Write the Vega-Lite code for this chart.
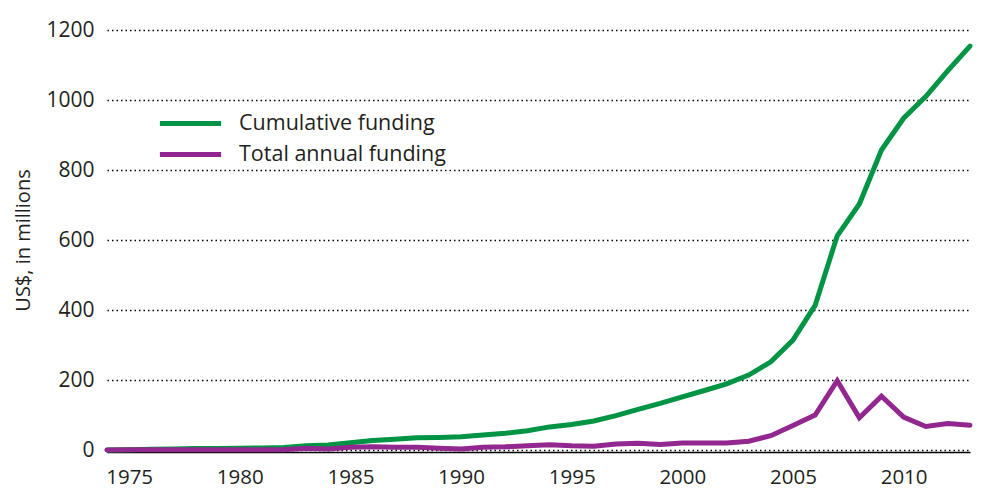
{
  "$schema": "https://vega.github.io/schema/vega-lite/v6.json",
  "autosize": "none",
  "width": 863,
  "height": 420,
  "padding": {"left": 107, "top": 30, "right": 12, "bottom": 39},
  "background": "white",
  "config": {
    "font": "Open Sans",
    "view": {"stroke": null},
    "axis": {"labelFont": "Open Sans", "titleFont": "Open Sans", "labelColor": "#231f20", "titleColor": "#231f20"}
  },
  "data": {
    "values": [
      {"year": 1974, "series": "Cumulative funding", "value": 0},
      {"year": 1975, "series": "Cumulative funding", "value": 1},
      {"year": 1976, "series": "Cumulative funding", "value": 2},
      {"year": 1977, "series": "Cumulative funding", "value": 3},
      {"year": 1978, "series": "Cumulative funding", "value": 4},
      {"year": 1979, "series": "Cumulative funding", "value": 4},
      {"year": 1980, "series": "Cumulative funding", "value": 5},
      {"year": 1981, "series": "Cumulative funding", "value": 6},
      {"year": 1982, "series": "Cumulative funding", "value": 7},
      {"year": 1983, "series": "Cumulative funding", "value": 12},
      {"year": 1984, "series": "Cumulative funding", "value": 14},
      {"year": 1985, "series": "Cumulative funding", "value": 21},
      {"year": 1986, "series": "Cumulative funding", "value": 27},
      {"year": 1987, "series": "Cumulative funding", "value": 31},
      {"year": 1988, "series": "Cumulative funding", "value": 35},
      {"year": 1989, "series": "Cumulative funding", "value": 36},
      {"year": 1990, "series": "Cumulative funding", "value": 38},
      {"year": 1991, "series": "Cumulative funding", "value": 43},
      {"year": 1992, "series": "Cumulative funding", "value": 48},
      {"year": 1993, "series": "Cumulative funding", "value": 55},
      {"year": 1994, "series": "Cumulative funding", "value": 66},
      {"year": 1995, "series": "Cumulative funding", "value": 73},
      {"year": 1996, "series": "Cumulative funding", "value": 83},
      {"year": 1997, "series": "Cumulative funding", "value": 98},
      {"year": 1998, "series": "Cumulative funding", "value": 116},
      {"year": 1999, "series": "Cumulative funding", "value": 133},
      {"year": 2000, "series": "Cumulative funding", "value": 152},
      {"year": 2001, "series": "Cumulative funding", "value": 170},
      {"year": 2002, "series": "Cumulative funding", "value": 189},
      {"year": 2003, "series": "Cumulative funding", "value": 214},
      {"year": 2004, "series": "Cumulative funding", "value": 252},
      {"year": 2005, "series": "Cumulative funding", "value": 314},
      {"year": 2006, "series": "Cumulative funding", "value": 413},
      {"year": 2007, "series": "Cumulative funding", "value": 612},
      {"year": 2008, "series": "Cumulative funding", "value": 703},
      {"year": 2009, "series": "Cumulative funding", "value": 857},
      {"year": 2010, "series": "Cumulative funding", "value": 948},
      {"year": 2011, "series": "Cumulative funding", "value": 1010},
      {"year": 2012, "series": "Cumulative funding", "value": 1084},
      {"year": 2013, "series": "Cumulative funding", "value": 1154},
      {"year": 1974, "series": "Total annual funding", "value": 0},
      {"year": 1975, "series": "Total annual funding", "value": 0.5},
      {"year": 1976, "series": "Total annual funding", "value": 0.5},
      {"year": 1977, "series": "Total annual funding", "value": 1},
      {"year": 1978, "series": "Total annual funding", "value": 1},
      {"year": 1979, "series": "Total annual funding", "value": 0.5},
      {"year": 1980, "series": "Total annual funding", "value": 1},
      {"year": 1981, "series": "Total annual funding", "value": 1},
      {"year": 1982, "series": "Total annual funding", "value": 1},
      {"year": 1983, "series": "Total annual funding", "value": 5},
      {"year": 1984, "series": "Total annual funding", "value": 3},
      {"year": 1985, "series": "Total annual funding", "value": 8},
      {"year": 1986, "series": "Total annual funding", "value": 9},
      {"year": 1987, "series": "Total annual funding", "value": 8},
      {"year": 1988, "series": "Total annual funding", "value": 8},
      {"year": 1989, "series": "Total annual funding", "value": 5},
      {"year": 1990, "series": "Total annual funding", "value": 3},
      {"year": 1991, "series": "Total annual funding", "value": 8},
      {"year": 1992, "series": "Total annual funding", "value": 9},
      {"year": 1993, "series": "Total annual funding", "value": 12},
      {"year": 1994, "series": "Total annual funding", "value": 15},
      {"year": 1995, "series": "Total annual funding", "value": 12},
      {"year": 1996, "series": "Total annual funding", "value": 11},
      {"year": 1997, "series": "Total annual funding", "value": 17},
      {"year": 1998, "series": "Total annual funding", "value": 19},
      {"year": 1999, "series": "Total annual funding", "value": 16},
      {"year": 2000, "series": "Total annual funding", "value": 20},
      {"year": 2001, "series": "Total annual funding", "value": 20},
      {"year": 2002, "series": "Total annual funding", "value": 20},
      {"year": 2003, "series": "Total annual funding", "value": 25},
      {"year": 2004, "series": "Total annual funding", "value": 41},
      {"year": 2005, "series": "Total annual funding", "value": 70},
      {"year": 2006, "series": "Total annual funding", "value": 100},
      {"year": 2007, "series": "Total annual funding", "value": 198},
      {"year": 2008, "series": "Total annual funding", "value": 92},
      {"year": 2009, "series": "Total annual funding", "value": 154},
      {"year": 2010, "series": "Total annual funding", "value": 94},
      {"year": 2011, "series": "Total annual funding", "value": 67},
      {"year": 2012, "series": "Total annual funding", "value": 76},
      {"year": 2013, "series": "Total annual funding", "value": 71}
    ]
  },
  "mark": {"type": "line", "strokeWidth": 5, "strokeCap": "round", "clip": false},
  "encoding": {
    "x": {
      "field": "year", "type": "quantitative",
      "scale": {"domain": [1974, 2013], "nice": false, "zero": false},
      "axis": {
        "values": [1975, 1980, 1985, 1990, 1995, 2000, 2005, 2010],
        "format": "d", "title": null, "grid": false, "ticks": false,
        "domainColor": "#000000", "domainWidth": 1.5, "offset": 2,
        "labelFontSize": 20.5, "labelPadding": 15
      }
    },
    "y": {
      "field": "value", "type": "quantitative",
      "scale": {"domain": [0, 1200], "nice": false},
      "axis": {
        "values": [0, 200, 400, 600, 800, 1000, 1200],
        "format": "d", "title": "US$, in millions", "titleFontSize": 20, "titleFontWeight": "normal",
        "titlePadding": 12, "domain": false, "ticks": false,
        "grid": true, "gridColor": "#000000", "gridDash": [1.5, 3], "gridWidth": 1.5,
        "labelFontSize": 21, "labelPadding": 13
      }
    },
    "color": {
      "field": "series", "type": "nominal",
      "scale": {"domain": ["Cumulative funding", "Total annual funding"], "range": ["#009444", "#92278f"]},
      "legend": {
        "title": null, "orient": "none", "legendX": 63, "legendY": 73,
        "symbolType": "M-1.7,0H1.7", "symbolSize": 1296, "symbolStrokeWidth": 5,
        "labelFontSize": 21.5, "labelColor": "#231f20", "labelOffset": 28, "labelLimit": 400, "rowPadding": 0
      }
    }
  }
}
